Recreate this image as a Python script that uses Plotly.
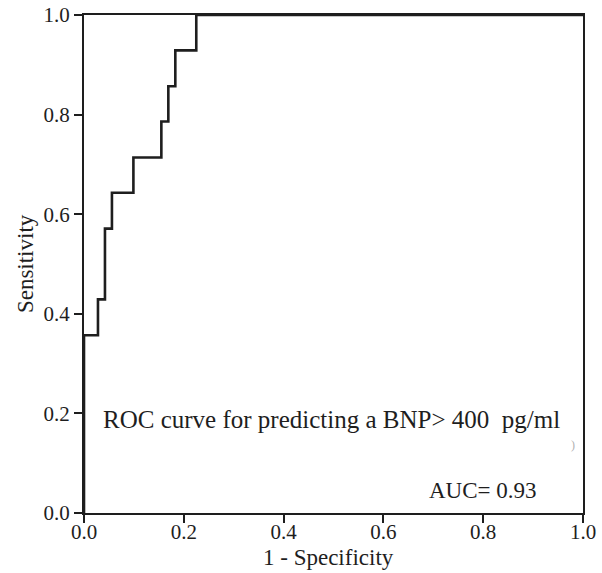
import plotly.graph_objects as go

# ROC curve corner points (1 - specificity, sensitivity)
fpr = [0.0, 0.0, 0.028, 0.042, 0.056, 0.099, 0.155, 0.169, 0.183, 0.225, 1.0]
tpr = [0.0, 0.357, 0.429, 0.571, 0.643, 0.714, 0.786, 0.857, 0.929, 1.0, 1.0]

tick_vals = [0.0, 0.2, 0.4, 0.6, 0.8, 1.0]
tick_text = ["0.0", "0.2", "0.4", "0.6", "0.8", "1.0"]

x_title = "1 - Specificity"
y_title = "Sensitivity"
curve_label = "ROC curve for predicting a BNP&gt; 400&nbsp; pg/ml"
auc_label = "AUC= 0.93"

FONT = "Liberation Serif, Times New Roman, serif"
INK = "#1e1e1e"

fig = go.Figure()
fig.add_trace(go.Scatter(
    x=fpr, y=tpr, mode="lines", line=dict(color=INK, width=2.6, shape="hv"),
    showlegend=False, hoverinfo="skip"))

fig.add_annotation(x=0.035, y=0.187, xref="x", yref="y", text=curve_label,
                   showarrow=False, xanchor="left", yanchor="middle",
                   font=dict(family=FONT, size=25, color=INK))
fig.add_annotation(x=0.8, y=0.046, xref="x", yref="y", text=auc_label,
                   showarrow=False, xanchor="center", yanchor="middle",
                   font=dict(family=FONT, size=23, color=INK))
# axis titles placed as paper annotations
fig.add_annotation(x=0.49, y=-0.09, xref="paper", yref="paper", text=x_title,
                   showarrow=False, xanchor="center", yanchor="middle",
                   font=dict(family=FONT, size=23, color=INK))
fig.add_annotation(x=-0.118, y=0.5, xref="paper", yref="paper", text=y_title,
                   showarrow=False, xanchor="center", yanchor="middle",
                   textangle=-90, font=dict(family=FONT, size=23, color=INK))
# faint scan mark at right
fig.add_annotation(x=0.98, y=0.137, xref="paper", yref="paper", text=")",
                   showarrow=False, xanchor="center", yanchor="middle",
                   font=dict(family=FONT, size=12, color="#b0b0b0"))

axis_common = dict(
    range=[0, 1], tickvals=tick_vals, ticktext=tick_text,
    showgrid=False, zeroline=False, showline=True, mirror=True,
    linecolor=INK, linewidth=2, ticks="outside", ticklen=8, tickwidth=2,
    tickcolor=INK, tickfont=dict(family=FONT, size=21, color=INK),
    fixedrange=True, automargin=False, ticklabeloverflow="allow",
)

fig.update_layout(
    width=602, height=573,
    margin=dict(l=84, r=19, t=15, b=60),
    paper_bgcolor="white", plot_bgcolor="white",
    xaxis=dict(**axis_common, ticklabelstandoff=-9),
    yaxis=dict(**axis_common),
)

# remove the default 8px page margin so the figure fills the window exactly
fig.write_html("out.html",
               config={"displayModeBar": False, "staticPlot": True},
               post_script="document.body.style.margin='0';"
                           "document.body.style.overflow='hidden';")
